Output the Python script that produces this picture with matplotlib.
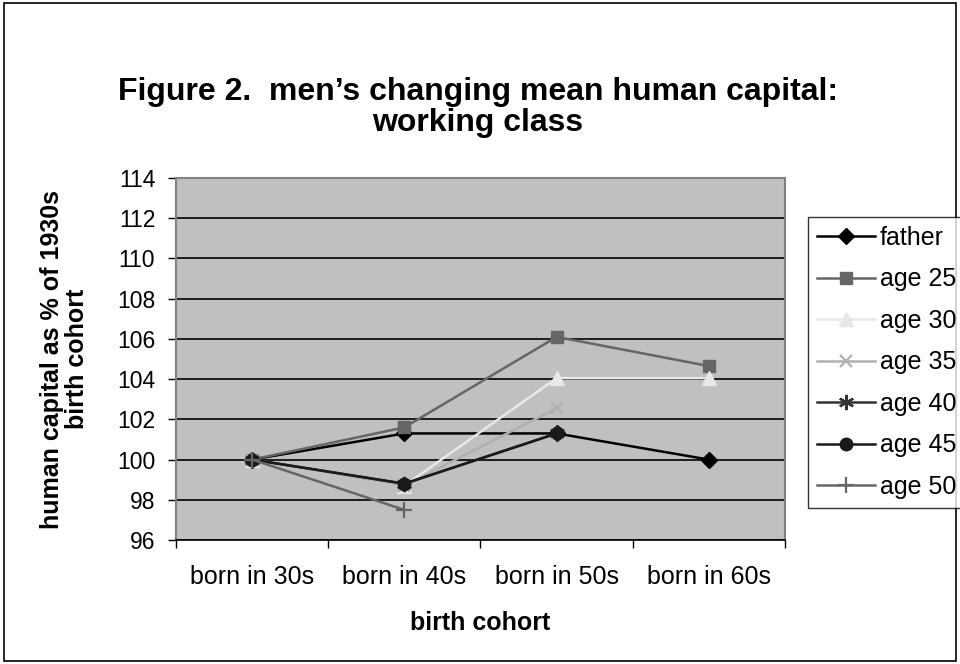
import numpy as np
import matplotlib.pyplot as plt
from matplotlib.patches import Rectangle

plt.rcParams['font.family'] = ['Liberation Sans', 'DejaVu Sans']

# data
cohorts = ["born in 30s", "born in 40s", "born in 50s", "born in 60s"]
father = [100, 101.3, 101.3, 100]
age25 = [100, 101.6, 106.1, 104.65]
age30 = [100, 98.7, 104.05, 104.05]
age35 = [100, 98.7, 102.55]
age40 = [100, 98.8, 101.3]
age45 = [100, 98.8, 101.3]
age50 = [100, 97.5]

series = [
    ("father", father, "#000000", "D", 8),
    ("age 25", age25, "#666666", "s", 9),
    ("age 30", age30, "#e8e8e8", "^", 10),
    ("age 35", age35, "#b0b0b0", "x", 9),
    ("age 40", age40, "#333333", (6, 2, 0), 11),
    ("age 45", age45, "#1a1a1a", "o", 9),
    ("age 50", age50, "#666666", "+", 12),
]

fig = plt.figure(figsize=(9.6, 6.64), dpi=100)
fig.patches.append(Rectangle((0.004, 0.005), 0.992, 0.99, transform=fig.transFigure,
                             fill=False, edgecolor="black", linewidth=1.2))

ax = fig.add_axes([0.1833, 0.1867, 0.6344, 0.5452])
ax.set_facecolor("#c0c0c0")

x = np.arange(len(cohorts))
handles = []
for name, vals, col, mk, ms in series:
    xs = x[:len(vals)]
    mew = 1.6 if mk in ("x", "+") or isinstance(mk, tuple) else 1
    h, = ax.plot(xs, vals, color=col, marker=mk, markersize=ms, linewidth=1.8,
                 markerfacecolor=col, markeredgecolor=col, markeredgewidth=mew,
                 label=name, zorder=3)
    handles.append(h)

ax.set_xlim(-0.5, 3.5)
ax.set_ylim(96, 114)
ax.set_yticks(np.arange(96, 115, 2))
ax.yaxis.grid(True, color="black", linewidth=1.2)
ax.set_axisbelow(True)

ax.set_xticks(x)
ax.set_xticklabels(cohorts)
ax.set_xticks(np.arange(-0.5, 3.6, 1), minor=True)
ax.tick_params(axis="x", which="major", length=0, pad=18, labelsize=18)
ax.tick_params(axis="x", which="minor", length=6, width=1, direction="out", color="black")
ax.tick_params(axis="y", length=6, width=1, direction="out", labelsize=16.5, pad=9)

for s in ("left", "right", "top"):
    ax.spines[s].set_color("#808080")
    ax.spines[s].set_linewidth(1.5)
ax.spines["bottom"].set_color("black")
ax.spines["bottom"].set_linewidth(1.2)

ax.set_xlabel("birth cohort", fontsize=18, fontweight="bold", labelpad=16)
fig.text(0.067, 0.459, "human capital as % of 1930s\nbirth cohort", fontsize=18,
         fontweight="bold", rotation=90, ha="center", va="center", linespacing=1.05)

fig.text(0.498, 0.838, "Figure 2.  men\u2019s changing mean human capital:\nworking class",
         fontsize=23, fontweight="bold", ha="center", va="center", linespacing=1.08)

leg = fig.legend(handles=handles, loc="upper left", bbox_to_anchor=(0.842, 0.673),
                 frameon=True, fancybox=False, edgecolor="black", fontsize=18,
                 handlelength=2.3, handletextpad=0.2, labelspacing=0.7,
                 borderpad=0.35, borderaxespad=0)
leg.get_frame().set_linewidth(1.0)

fig.savefig("out.png", dpi=100)
